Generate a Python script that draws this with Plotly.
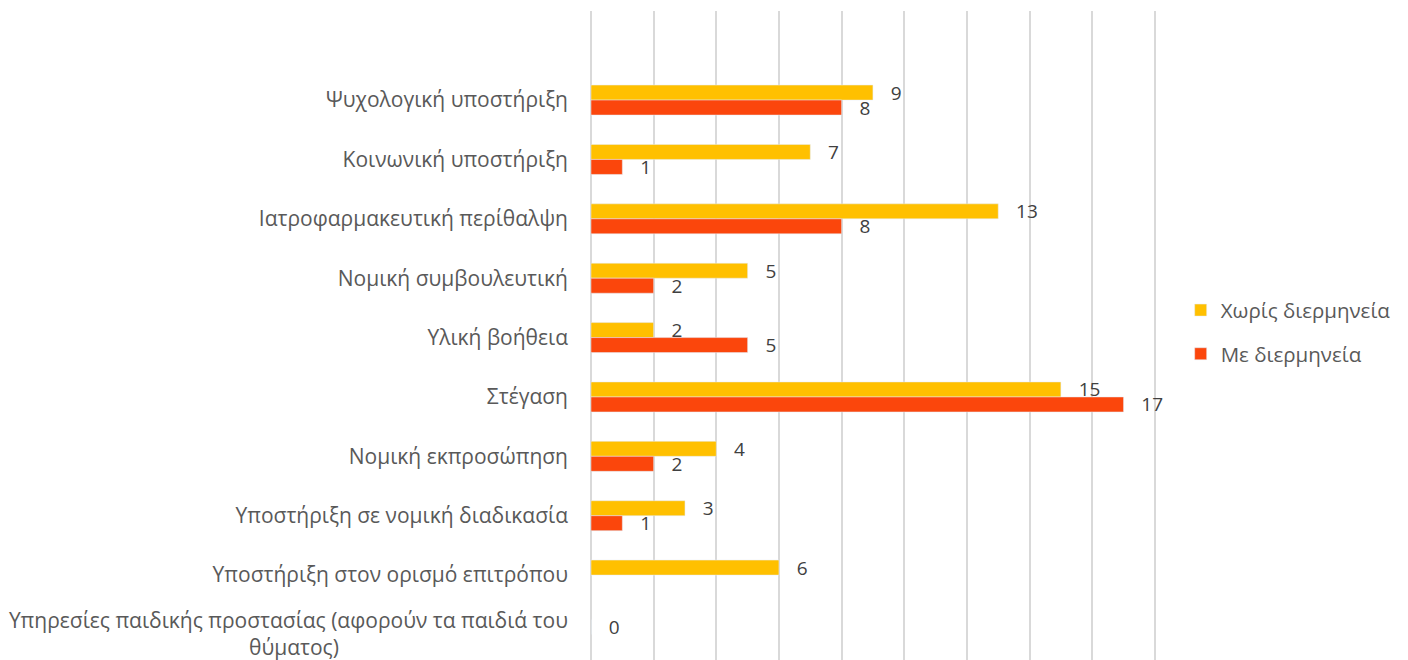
import plotly.graph_objects as go

categories = [
    "Ψυχολογική υποστήριξη",
    "Κοινωνική υποστήριξη",
    "Ιατροφαρμακευτική περίθαλψη",
    "Νομική συμβουλευτική",
    "Υλική βοήθεια",
    "Στέγαση",
    "Νομική εκπροσώπηση",
    "Υποστήριξη σε νομική διαδικασία",
    "Υποστήριξη στον ορισμό επιτρόπου",
    "Υπηρεσίες παιδικής προστασίας (αφορούν τα παιδιά του<br>θύματος)" + "\u00a0" * 42,
]
xoris = [9, 7, 13, 5, 2, 15, 4, 3, 6, 0]
me = [8, 1, 8, 2, 5, 17, 2, 1, None, None]

YELLOW = "#FFC000"
RED = "#FB460C"
label_font = dict(family="Open Sans", size=19, color="#404040")

fig = go.Figure()
fig.add_trace(go.Bar(y=categories, x=xoris, name="Χωρίς διερμηνεία", orientation="h",
                     marker_color=YELLOW, legendgroup="a",
                     text=xoris, texttemplate="   %{x}", textposition="outside",
                     constraintext="none", textfont=label_font, cliponaxis=False))
fig.add_trace(go.Bar(y=categories, x=me, name="Με διερμηνεία", orientation="h",
                     marker_color=RED, legendgroup="b",
                     text=me, texttemplate="   %{x}", textposition="outside",
                     constraintext="none", textfont=label_font, cliponaxis=False))

fig.update_layout(
    width=1400, height=652,
    margin=dict(l=583, r=250, t=3, b=0),
    barmode="group", bargap=0.495, bargroupgap=0,
    plot_bgcolor="white", paper_bgcolor="white",
    font=dict(family="Open Sans", size=21, color="#595959"),
    legend=dict(x=1.04, xanchor="left", y=0.505, yanchor="middle",
                traceorder="grouped", tracegroupgap=14,
                font=dict(size=20.5, color="#595959")),
)
fig.update_xaxes(range=[0, 18.1], dtick=2, showticklabels=False,
                 showgrid=True, gridcolor="#D9D9D9", gridwidth=1.5,
                 zeroline=True, zerolinecolor="#D9D9D9", zerolinewidth=1.5,
                 showline=False)
fig.update_yaxes(categoryorder="array", categoryarray=categories,
                 range=[9.43, -1.5], showgrid=False, ticks="",
                 ticklabelstandoff=22, showline=False)

fig.write_html("out.html")
